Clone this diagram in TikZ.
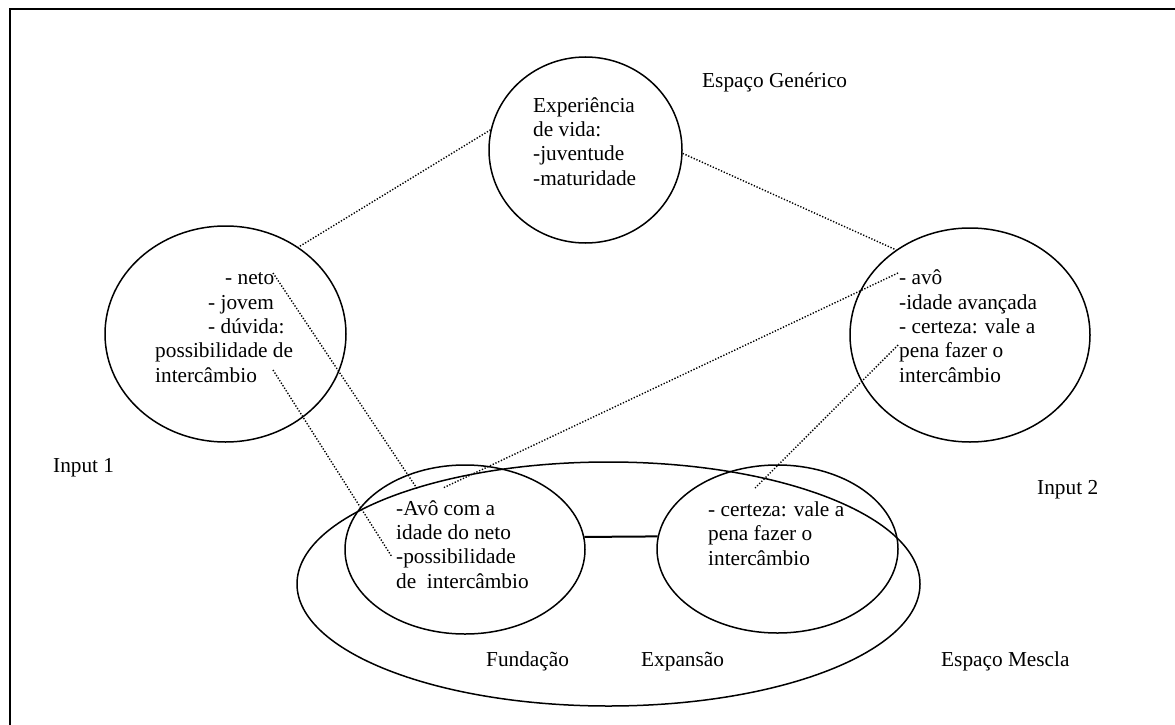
\documentclass[tikz,border=0pt]{standalone}
\usepackage{fontspec}
\setmainfont{Liberation Serif}
\usetikzlibrary{shapes.geometric}
\begin{document}
\begin{tikzpicture}[x=1pt,y=-1pt,
  ell/.style={ellipse, draw, line width=1.5pt, inner sep=0pt},
  txt/.style={anchor=base west, inner sep=0pt, align=left, font=\fontsize{21.3}{24.3}\selectfont},
  dots/.style={line width=1.4pt, dash pattern=on 1.3pt off 1.7pt},
  framestyle/.style={line width=2pt}]
\useasboundingbox (0,0) rectangle (1175,725);
\draw[framestyle] (9.5,725) -- (9.5,9.5) -- (1175,9.5);

% circles / ellipses
\node[ell, minimum width=193pt, minimum height=186pt] (gen) at (585.5,150) {};
\node[ell, minimum width=241pt, minimum height=216pt] (in1) at (225.5,334) {};
\node[ell, minimum width=240pt, minimum height=214pt] (in2) at (970,335) {};
\node[ell, minimum width=623pt, minimum height=244pt] (mes) at (608.5,584) {};
\node[ell, minimum width=240pt, minimum height=169pt] (fund) at (465,549.5) {};
\node[ell, minimum width=241pt, minimum height=168pt] (exp) at (777.5,549) {};

% texts inside (anchored at the baseline of the last line)
\node[txt] (gentxt) at (533,185) {Experiência\\de vida:\\-juventude\\-maturidade};
\node[txt] (in1txt) at (155,382) {\hspace*{70pt}- neto\\\hspace*{53pt}- jovem\\\hspace*{53pt}- dúvida:\\possibilidade de\\intercâmbio};
\node[txt] (in2txt) at (899,382) {- avô\\-idade avançada\\- certeza: vale a\\pena fazer o\\intercâmbio};
\node[txt] (fundtxt) at (396,588) {-Avô com a\\idade do neto\\-possibilidade\\de\ \ intercâmbio};
\node[txt] (exptxt) at (708,565) {- certeza: vale a\\pena fazer o\\intercâmbio};

% labels
\node[txt] (lgen) at (702,88) {Espaço Genérico};
\node[txt] (lin1) at (53,472) {Input 1};
\node[txt] (lin2) at (1037,494) {Input 2};
\node[txt] (lfund) at (486,666) {Fundação};
\node[txt] (lexp) at (641,666) {Expansão};
\node[txt] (lmes) at (941,666) {Espaço Mescla};

% connector end points
\coordinate (netoE) at (273,273);
\coordinate (avoF) at (418,490);
\coordinate (interE) at (273,370);
\coordinate (possF) at (392,557);
\coordinate (avoS) at (898,273);
\coordinate (avoFr) at (443,488);
\coordinate (penaS) at (898,345);
\coordinate (certE) at (755,488);

% connectors
\draw[dots] (gen.168) -- (in1.50);
\draw[dots] (gen.-2) -- (in2.131);
\draw[dots] (netoE) -- (avoF);
\draw[dots] (interE) -- (possF);
\draw[dots] (avoS) -- (avoFr);
\draw[dots] (penaS) -- (certE);
\draw[line width=2pt] (fund.6) -- (exp.174);
\end{tikzpicture}
\end{document}
